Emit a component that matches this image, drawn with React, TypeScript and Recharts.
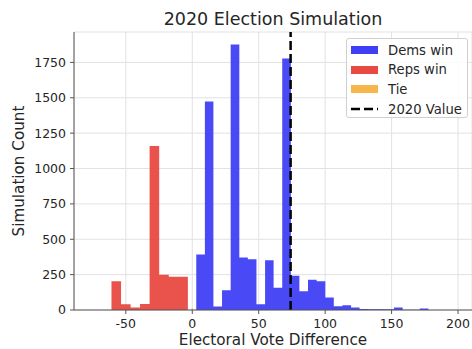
import {
  ComposedChart,
  Area,
  XAxis,
  YAxis,
  CartesianGrid,
  ReferenceLine,
} from "recharts"

// Republican-win histogram: bin edges and counts
const repEdges = [-60.8, -53.6, -46.4, -39.3, -32.1, -24.9, -17.7, -10.5, -3.3]
const repCounts = [203, 40, 18, 42, 1160, 249, 235, 235]

// Tie histogram (single narrow bin around zero)
const tieEdges = [-0.5, 0.5]
const tieCounts = [12]

// Democratic-win histogram: bin edges and counts
const demEdges = [
  3.0, 9.5, 15.9, 22.4, 28.9, 35.4, 41.8, 48.3, 54.8, 61.2, 67.7, 74.2, 80.6, 87.1,
  93.6, 100.1, 106.5, 113.0, 119.5, 125.9, 132.4, 138.9, 145.3, 151.8, 158.3, 164.8,
  171.2, 177.7,
]
const demCounts = [
  393, 1474, 25, 140, 1876, 371, 359, 40, 352, 157, 1777, 242, 133, 214, 204, 89, 26,
  33, 18, 7, 6, 6, 5, 18, 2, 1, 10,
]

const value2020 = 74
const xTicks = [-50, 0, 50, 100, 150, 200]
const yTicks = [0, 250, 500, 750, 1000, 1250, 1500, 1750]

const legendItems = [
  { label: "Dems win", color: "#3f3ff5", kind: "patch" },
  { label: "Reps win", color: "#e84a41", kind: "patch" },
  { label: "Tie", color: "#f5b64b", kind: "patch" },
  { label: "2020 Value", color: "#000000", kind: "line" },
]

// step series: one row per bin edge, the last edge repeats the last count
function stepRows(edges: number[], counts: number[], key: string) {
  return edges.map((x, i) => ({ x, [key]: counts[Math.min(i, counts.length - 1)] }))
}

const rows = [
  ...stepRows(repEdges, repCounts, "reps"),
  ...stepRows(tieEdges, tieCounts, "tie"),
  ...stepRows(demEdges, demCounts, "dems"),
]

const font = "'DejaVu Sans', sans-serif"
const ink = "#262626"

export default function App() {
  return (
    <div style={{ position: "absolute", left: 0, top: 0, width: 472, height: 349, fontFamily: font, background: "#fff" }}>
      <ComposedChart
        width={472}
        height={349}
        data={rows}
        margin={{ top: 32, right: 0, bottom: 0, left: 0 }}
      >
        <CartesianGrid stroke="#e2e2e2" strokeWidth={1} />
        <XAxis
          type="number"
          dataKey="x"
          domain={[-89, 210.5]}
          ticks={xTicks}
          allowDataOverflow
          height={39}
          stroke="#555"
          tickSize={4}
          tickMargin={5}
          tick={{ fill: ink, fontSize: 12.5, fontFamily: font }}
          label={{
            value: "Electoral Vote Difference",
            position: "insideBottom",
            offset: 4,
            fill: ink,
            fontSize: 15.2,
            fontFamily: font,
          }}
        />
        <YAxis
          type="number"
          domain={[0, 1965]}
          ticks={yTicks}
          width={74}
          stroke="#555"
          tickSize={4}
          tickMargin={4}
          tick={{ fill: ink, fontSize: 12.5, fontFamily: font }}
          label={{
            value: "Simulation Count",
            angle: -90,
            position: "insideLeft",
            offset: 19,
            fill: ink,
            fontSize: 15.2,
            fontFamily: font,
            style: { textAnchor: "middle" },
          }}
        />
        <Area
          type="stepAfter"
          dataKey="reps"
          stroke="none"
          fill="#e84a41"
          fillOpacity={0.95}
          dot={false}
          activeDot={false}
          isAnimationActive={false}
        />
        <Area
          type="stepAfter"
          dataKey="tie"
          stroke="none"
          fill="#f5b64b"
          fillOpacity={0.95}
          dot={false}
          activeDot={false}
          isAnimationActive={false}
        />
        <Area
          type="stepAfter"
          dataKey="dems"
          stroke="none"
          fill="#3f3ff5"
          fillOpacity={0.95}
          dot={false}
          activeDot={false}
          isAnimationActive={false}
        />
        <ReferenceLine x={value2020} stroke="#000" strokeWidth={2.5} strokeDasharray="9 4" />
      </ComposedChart>

      <svg width={472} height={349} style={{ position: "absolute", left: 0, top: 0, pointerEvents: "none" }}>
        <text x={273} y={25} textAnchor="middle" fontSize={17.5} fill={ink} fontFamily={font}>
          2020 Election Simulation
        </text>
      </svg>

      <div
        style={{
          position: "absolute",
          left: 346,
          top: 38,
          width: 122,
          height: 80,
          border: "1px solid #d0d0d0",
          borderRadius: 3,
          background: "rgba(255,255,255,0.85)",
          boxSizing: "border-box",
        }}
      >
        {legendItems.map((item, i) => (
          <div
            key={item.label}
            style={{
              position: "absolute",
              left: 4,
              top: 1 + i * 19.7,
              height: 20,
              display: "flex",
              alignItems: "center",
              whiteSpace: "nowrap",
            }}
          >
            {item.kind === "patch" ? (
              <div style={{ width: 27, height: 8, background: item.color }} />
            ) : (
              <svg width={27} height={8}>
                <line x1={0} y1={4} x2={27} y2={4} stroke={item.color} strokeWidth={2.5} strokeDasharray="9 4" />
              </svg>
            )}
            <span style={{ marginLeft: 10, fontSize: 13.2, color: ink }}>{item.label}</span>
          </div>
        ))}
      </div>
    </div>
  )
}
